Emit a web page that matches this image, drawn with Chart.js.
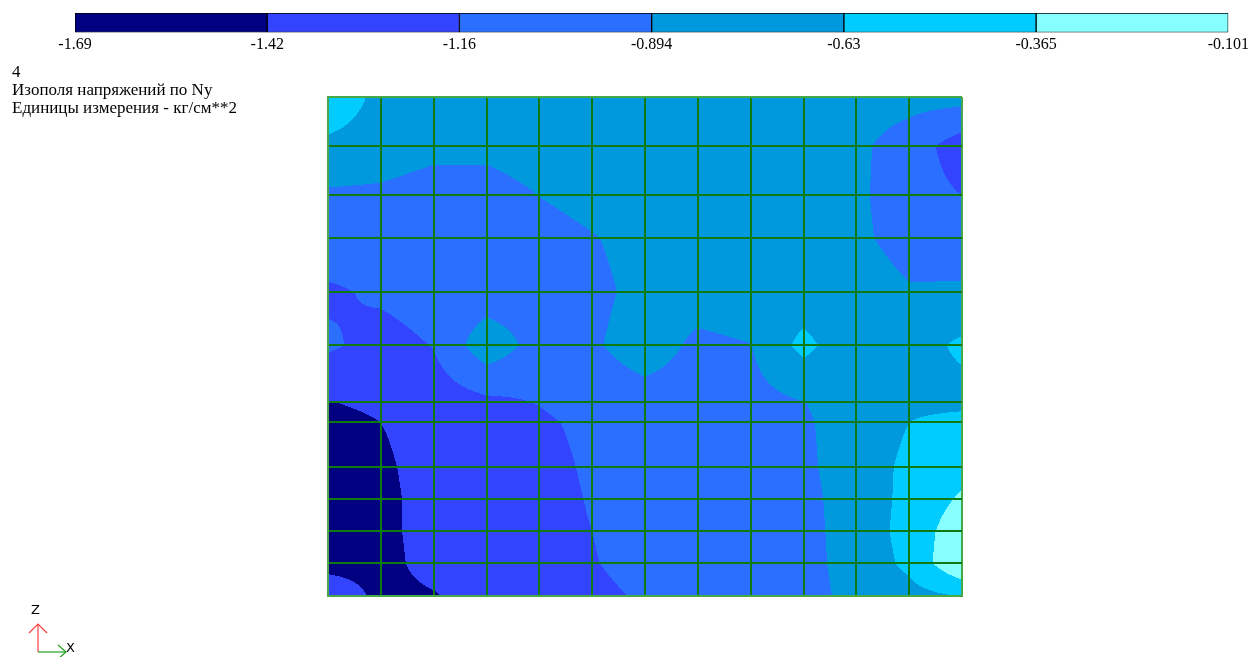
<!DOCTYPE html>
<html>
<head>
<meta charset="utf-8">
<script src="https://cdn.jsdelivr.net/npm/chart.js@4.4.0/dist/chart.umd.min.js"></script>
<style>
  html, body { margin: 0; padding: 0; background: #fff; width: 1252px; height: 657px; overflow: hidden; }
  canvas { position: absolute; left: 0; top: 0; }
  .caption { position: absolute; left: 12px; top: 63px; font: 17px/18px "Liberation Serif", serif; color: #000; white-space: nowrap; }
  .axes { position: absolute; left: 0; top: 590px; }
</style>
</head>
<body>
<canvas id="field" width="1252" height="657"></canvas>
<canvas id="legend" width="1252" height="60"></canvas>
<div class="caption">4<br>Изополя напряжений по Ny<br>Единицы измерения - кг/см**2</div>
<svg class="axes" width="120" height="67" viewBox="0 590 120 67">
  <text x="31" y="614" font-family="DejaVu Sans, sans-serif" font-size="13" fill="#000">Z</text>
  <polyline points="38,652 38,624" stroke="#ff4040" stroke-width="1.2" fill="none"/>
  <polyline points="29,633 38,624 47,633" stroke="#ff4040" stroke-width="1.2" fill="none"/>
  <polyline points="38,652 66,652" stroke="#20a020" stroke-width="1.2" fill="none"/>
  <polyline points="58,645 66,652 58,659" stroke="#20a020" stroke-width="1.2" fill="none"/>
  <text x="66" y="652" font-family="DejaVu Sans, sans-serif" font-size="13" fill="#000">X</text>
</svg>
<script>
// contour levels (kg/cm**2) and the colour of each band
const levels = [-1.69, -1.42, -1.16, -0.894, -0.63, -0.365, -0.101];
const bandColors = ['#000080', '#3344ff', '#2a6fff', '#0099dd', '#00ccff', '#88ffff'];

// mesh node coordinates (12 x 12 plate elements)
const xNodes = [0, 1, 2, 3, 4, 5, 6, 7, 8, 9, 10, 11, 12];
const yNodes = [9.45, 8.52, 7.59, 6.78, 5.75, 4.75, 3.67, 3.29, 2.44, 1.84, 1.23, 0.62, 0];

// Ny at the nodes, one row per yNodes entry (top to bottom)
const ny01 = [-0.40, -0.72, -0.75, -0.76, -0.76, -0.75, -0.74, -0.74, -0.74, -0.75, -0.78, -0.80, -0.80];
const ny02 = [-0.70, -0.76, -0.83, -0.83, -0.77, -0.72, -0.72, -0.72, -0.72, -0.72, -0.84, -1.02, -1.30];
const ny03 = [-0.93, -0.94, -1.00, -1.00, -0.89, -0.80, -0.75, -0.73, -0.72, -0.72, -0.84, -1.05, -1.16];
const ny04 = [-1.00, -1.03, -1.05, -1.05, -1.00, -0.91, -0.80, -0.75, -0.73, -0.72, -0.84, -1.00, -1.02];
const ny05 = [-1.20, -1.12, -1.05, -1.05, -1.02, -0.96, -0.82, -0.78, -0.74, -0.80, -0.75, -0.87, -0.86];
const ny06 = [-1.12, -1.25, -1.15, -0.72, -1.00, -0.93, -0.76, -0.95, -0.90, -0.55, -0.85, -0.75, -0.58];
const ny07 = [-1.43, -1.36, -1.30, -1.22, -1.15, -1.05, -1.00, -1.02, -0.98, -0.90, -0.78, -0.70, -0.72];
const ny08 = [-1.52, -1.42, -1.33, -1.26, -1.20, -1.10, -1.05, -1.05, -1.00, -0.92, -0.80, -0.63, -0.52];
const ny09 = [-1.58, -1.46, -1.33, -1.28, -1.25, -1.12, -1.06, -1.05, -1.00, -0.93, -0.80, -0.56, -0.45];
const ny10 = [-1.60, -1.48, -1.33, -1.28, -1.26, -1.14, -1.08, -1.05, -1.02, -0.95, -0.80, -0.55, -0.33];
const ny11 = [-1.60, -1.48, -1.33, -1.28, -1.25, -1.16, -1.08, -1.05, -1.02, -0.96, -0.80, -0.53, -0.20];
const ny12 = [-1.52, -1.50, -1.33, -1.28, -1.25, -1.17, -1.10, -1.05, -1.02, -0.97, -0.80, -0.57, -0.11];
const ny13 = [-1.22, -1.49, -1.44, -1.30, -1.25, -1.20, -1.14, -1.05, -1.00, -0.98, -0.82, -0.72, -0.62];
const nodeRows = [ny01, ny02, ny03, ny04, ny05, ny06, ny07, ny08, ny09, ny10, ny11, ny12, ny13];

Chart.defaults.font.family = '"Liberation Serif", "Times New Roman", serif';
Chart.defaults.color = '#000';

function cellOf(nodes, v) {
  for (let k = 0; k < nodes.length - 1; k++) {
    if ((v - nodes[k]) * (v - nodes[k + 1]) <= 0) return k;
  }
  return nodes.length - 2;
}

function bandOf(v) {
  let k = 0;
  while (k < bandColors.length - 1 && v >= levels[k + 1]) k++;
  return k;
}

function hexRgb(h) {
  const n = parseInt(h.slice(1), 16);
  return [(n >> 16) & 255, (n >> 8) & 255, n & 255];
}

// fills the plate with colour bands, under the mesh lines (grid)
const isofield = {
  id: 'isofield',
  beforeDraw(chart) {
    const { ctx, chartArea: a, scales: { x, y } } = chart;
    const w = Math.round(a.right - a.left), h = Math.round(a.bottom - a.top);
    const off = document.createElement('canvas');
    off.width = w; off.height = h;
    const octx = off.getContext('2d');
    const img = octx.createImageData(w, h);
    const rgb = bandColors.map(hexRgb);
    const cols = [];
    for (let px = 0; px < w; px++) {
      const vx = x.getValueForPixel(a.left + px + 0.5);
      const c = cellOf(xNodes, vx);
      cols.push([c, (vx - xNodes[c]) / (xNodes[c + 1] - xNodes[c])]);
    }
    for (let py = 0; py < h; py++) {
      const vy = y.getValueForPixel(a.top + py + 0.5);
      const r = cellOf(yNodes, vy);
      const ty = (vy - yNodes[r]) / (yNodes[r + 1] - yNodes[r]);
      const top = nodeRows[r], bot = nodeRows[r + 1];
      for (let px = 0; px < w; px++) {
        const [c, tx] = cols[px];
        const v = (1 - ty) * ((1 - tx) * top[c] + tx * top[c + 1]) + ty * ((1 - tx) * bot[c] + tx * bot[c + 1]);
        const col = rgb[bandOf(v)];
        const i = (py * w + px) * 4;
        img.data[i] = col[0]; img.data[i + 1] = col[1]; img.data[i + 2] = col[2]; img.data[i + 3] = 255;
      }
    }
    octx.putImageData(img, 0, 0);
    ctx.drawImage(off, a.left, a.top);
  }
};

const meshDark = '#0f7a12', meshEdge = '#46a846';
const meshGrid = n => ({
  color: c => (c.index === 0 || c.index === n - 1) ? meshEdge : meshDark,
  lineWidth: 2,
  drawTicks: false
});
const meshBorder = { color: meshEdge, width: 2 };

new Chart(document.getElementById('field'), {
  type: 'scatter',
  data: { datasets: [] },
  options: {
    responsive: false,
    animation: false,
    layout: { padding: { left: 328, top: 97, right: 290, bottom: 61 } },
    plugins: { legend: { display: false }, tooltip: { enabled: false } },
    scales: {
      x: {
        type: 'linear', min: xNodes[0], max: xNodes[xNodes.length - 1],
        afterBuildTicks: ax => { ax.ticks = xNodes.map(v => ({ value: v })); },
        ticks: { display: false }, grid: meshGrid(xNodes.length), border: meshBorder
      },
      y: {
        type: 'linear', min: yNodes[yNodes.length - 1], max: yNodes[0],
        afterBuildTicks: ax => { ax.ticks = yNodes.slice().reverse().map(v => ({ value: v })); },
        ticks: { display: false }, grid: meshGrid(yNodes.length), border: meshBorder
      }
    }
  },
  plugins: [isofield]
});

// colour scale along the top
new Chart(document.getElementById('legend'), {
  type: 'bar',
  data: {
    labels: [''],
    datasets: bandColors.map((c, k) => ({
      data: [[k, k + 1]],
      backgroundColor: c,
      borderColor: '#000',
      borderWidth: 1,
      borderSkipped: false,
      grouped: false,
      barPercentage: 1,
      categoryPercentage: 1
    }))
  },
  options: {
    indexAxis: 'y',
    responsive: false,
    animation: false,
    layout: { padding: { left: 75, right: 22, top: 13, bottom: 8 } },
    plugins: { legend: { display: false }, tooltip: { enabled: false } },
    scales: {
      x: {
        type: 'linear', min: 0, max: levels.length - 1,
        afterBuildTicks: ax => { ax.ticks = levels.map((v, k) => ({ value: k })); },
        ticks: { callback: v => String(levels[v]), font: { size: 16 }, padding: 3, maxRotation: 0, autoSkip: false },
        grid: { display: false, drawTicks: false },
        border: { display: false }
      },
      y: { display: false }
    }
  }
});
</script>
</body>
</html>
